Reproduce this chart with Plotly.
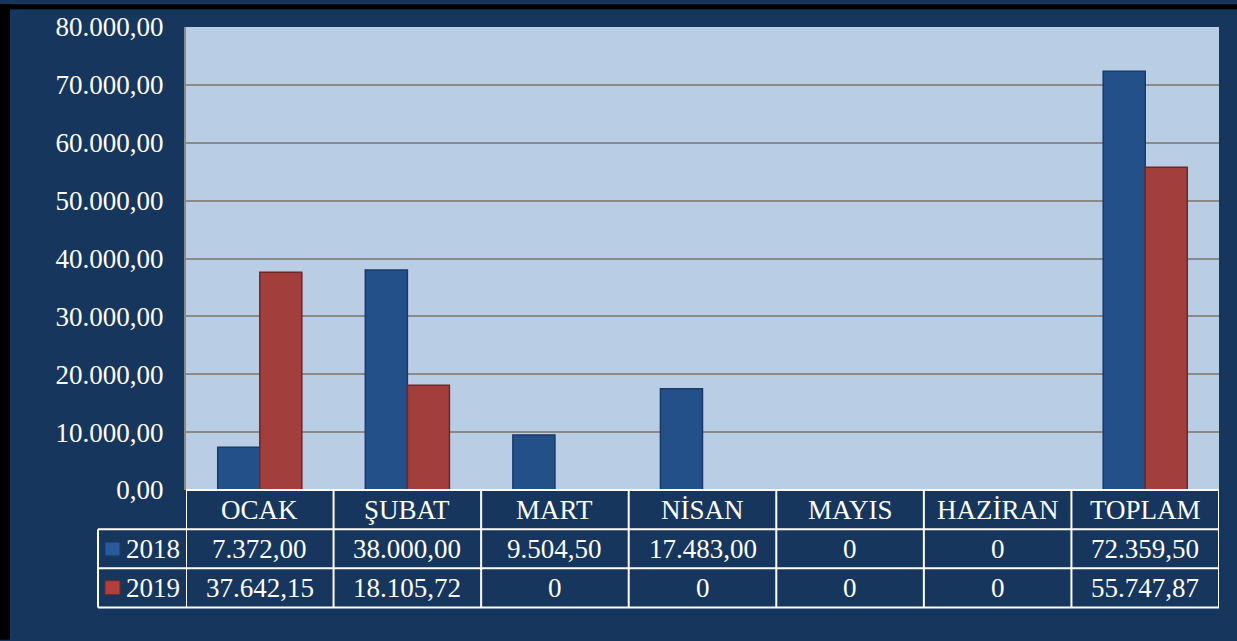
import plotly.graph_objects as go

# data
months = ["OCAK", "ŞUBAT", "MART", "NİSAN", "MAYIS", "HAZİRAN", "TOPLAM"]
years = ["2018", "2019"]
values_2018 = [7372.00, 38000.00, 9504.50, 17483.00, 0, 0, 72359.50]
values_2019 = [37642.15, 18105.72, 0, 0, 0, 0, 55747.87]

NAVY = "#17365d"
FONT = "Liberation Serif"
W, H = 1237, 641
L, R, T, B = 186, 1219, 23, 490  # plot area in pixels


def px_x(x):
    return (x - L) / (R - L)


def px_y(y):
    return (B - y) / (B - T)


def tr(v):
    # Turkish number format: 72.359,50 ; zeros shown as 0
    if v == 0:
        return "0"
    s = f"{v:,.2f}"
    return s.replace(",", "#").replace(".", ",").replace("#", ".")


fig = go.Figure()
fig.add_bar(x=months, y=values_2018, name=years[0],
            marker=dict(color="#24508a", line=dict(color="#183b68", width=1.5)))
fig.add_bar(x=months, y=values_2019, name=years[1],
            marker=dict(color="#a23e3c", line=dict(color="#6f2827", width=1.5)))

shapes = []
annotations = []
white = dict(color="white", width=2)

# table horizontal lines
shapes.append(dict(type="line", xref="paper", yref="paper", x0=0, x1=1,
                   y0=0, y1=0, line=white))
for yy in (529.5, 569, 608.5):
    shapes.append(dict(type="line", xref="paper", yref="paper",
                       x0=px_x(98), x1=1, y0=px_y(yy), y1=px_y(yy), line=white))
# table vertical lines
for k in range(len(months) + 1):
    shapes.append(dict(type="line", xref="x", yref="paper", x0=k - 0.5, x1=k - 0.5,
                       y0=0, y1=px_y(608.5), line=white))
shapes.append(dict(type="line", xref="paper", yref="paper", x0=px_x(98), x1=px_x(98),
                   y0=px_y(529.5), y1=px_y(608.5), line=white))

# black frame at top and left
shapes.append(dict(type="rect", xref="paper", yref="paper", x0=px_x(0), x1=px_x(W),
                   y0=px_y(5), y1=px_y(0), fillcolor="black", line_width=0))
shapes.append(dict(type="rect", xref="paper", yref="paper", x0=px_x(0), x1=px_x(10),
                   y0=px_y(H), y1=px_y(0), fillcolor="black", line_width=0))

fnt = dict(family=FONT, size=27, color="white")
row_y = [px_y(549.5), px_y(588.5)]
series = [values_2018, values_2019]
colors = [("#2a5a9a", "#183b68"), ("#b0403e", "#6f2827")]

for i, m in enumerate(months):
    annotations.append(dict(x=m, y=px_y(510), xref="x", yref="paper", text=m,
                            showarrow=False, xanchor="center", yanchor="middle", font=fnt))
    for r in range(2):
        annotations.append(dict(x=m, y=row_y[r], xref="x", yref="paper",
                                text=tr(series[r][i]), showarrow=False,
                                xanchor="center", yanchor="middle", font=fnt))

for r in range(2):
    annotations.append(dict(x=px_x(124), y=row_y[r], xref="paper", yref="paper",
                            text=years[r], showarrow=False, xanchor="left",
                            yanchor="middle", font=fnt))
    shapes.append(dict(type="rect", xref="paper", yref="paper",
                       x0=px_x(105), x1=px_x(120),
                       y0=row_y[r] - 7 / (B - T), y1=row_y[r] + 7 / (B - T),
                       fillcolor=colors[r][0], line=dict(color=colors[r][1], width=1)))

fig.update_layout(
    width=W, height=H,
    margin=dict(l=L, r=W - R, t=T, b=H - B, pad=0),
    paper_bgcolor=NAVY,
    plot_bgcolor="#b9cde5",
    separators=",.",
    barmode="group",
    bargap=0.43,
    bargroupgap=0,
    showlegend=False,
    shapes=shapes,
    annotations=annotations,
    xaxis=dict(showticklabels=False, showgrid=False, zeroline=False,
               range=[-0.5, len(months) - 0.5]),
    yaxis=dict(range=[0, 80000], dtick=10000, tickformat=",.2f",
               showgrid=True, gridcolor="#8a8a8a", gridwidth=2,
               showline=True, linecolor="#8a8a8a", linewidth=2,
               zeroline=False, ticks="", ticklabelstandoff=15,
               tickfont=dict(family=FONT, size=27, color="white")),
)

fig.write_html("out.html", config={"displayModeBar": False},
               post_script="document.body.style.margin='0';")
